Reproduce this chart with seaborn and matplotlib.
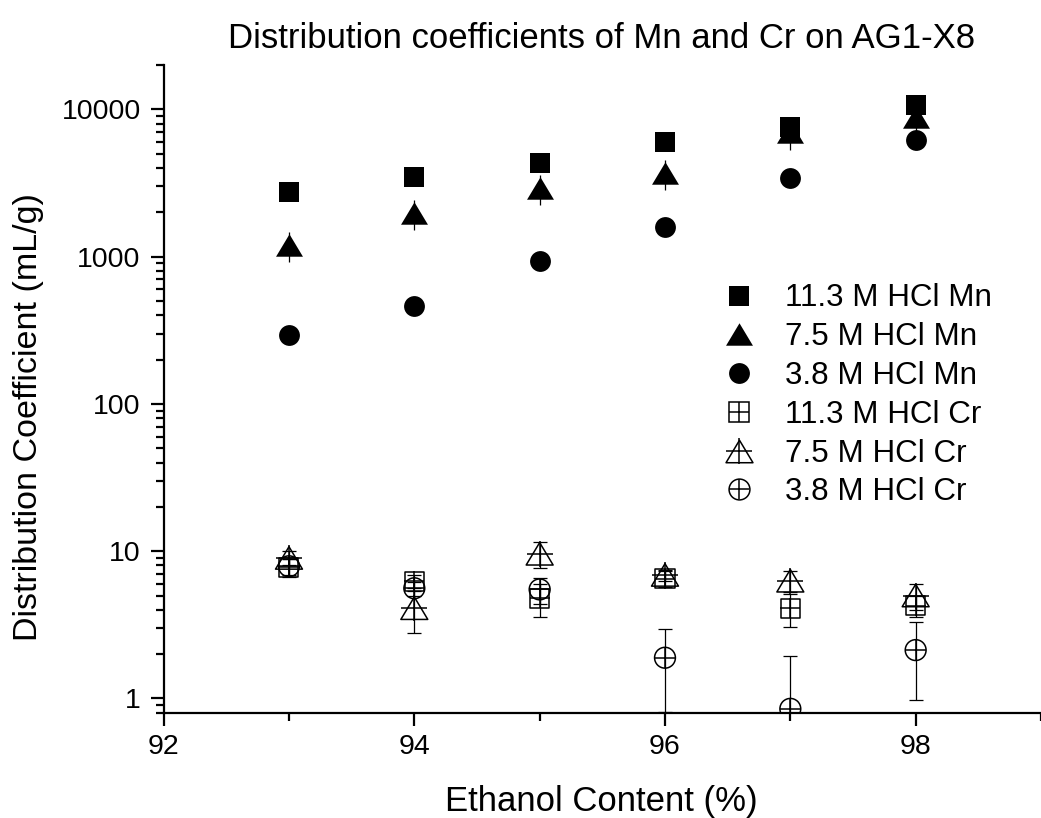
import matplotlib
matplotlib.use("Agg")
import matplotlib.pyplot as plt
import seaborn as sns
import pandas as pd
import numpy as np
from matplotlib.lines import Line2D
from matplotlib.path import Path
from matplotlib.ticker import LogLocator, FixedLocator, NullFormatter

# ---- data ----
ethanol = [93, 94, 95, 96, 97, 98]

mn_113 = [2765, 3460, 4350, 6040, 7640, 10710]
mn_75 = [1200, 1970, 2920, 3690, 7000, 8840]
mn_75_err = [280, 460, 680, 860, 1700, 2000]
mn_38 = [295, 459, 927, 1600, 3410, 6200]

cr_113 = [7.8, 6.25, 4.8, 6.5, 4.1, 4.25]
cr_113_err = [1.1, 0.6, 1.2, 0.8, 1.05, 0.7]
cr_75 = [9.0, 4.1, 9.6, 6.9, 6.3, 5.0]
cr_75_err = [1.0, 1.3, 1.9, 0.6, 1.0, 1.0]
cr_38 = [7.9, 5.6, 5.5, 1.89, 0.85, 2.13]
cr_38_err = [1.0, 0.6, 1.1, 1.08, 1.1, 1.15]

labels = ["11.3 M HCl Mn", "7.5 M HCl Mn", "3.8 M HCl Mn",
          "11.3 M HCl Cr", "7.5 M HCl Cr", "3.8 M HCl Cr"]
x_ticks = [92, 94, 96, 98]
y_ticks = [1, 10, 100, 1000, 10000]
y_tick_labels = ["1", "10", "100", "1000", "10000"]

sns.set_theme(style="ticks")
plt.rcParams["font.family"] = ["Liberation Sans", "DejaVu Sans"]
plt.rcParams["text.color"] = "black"
plt.rcParams["axes.labelcolor"] = "black"
plt.rcParams["legend.labelcolor"] = "black"

# wide triangle marker (Origin style)
tri = Path([(0, 1), (-1.2, -1), (1.2, -1), (0, 1)],
           [Path.MOVETO, Path.LINETO, Path.LINETO, Path.CLOSEPOLY])

fig = plt.figure(figsize=(10.41, 8.18), dpi=100)
ax = fig.add_axes([0.1572, 0.1287, 0.8428, 0.7918])

series = [
    (mn_113, None, "s", True, 13.7),
    (mn_75, mn_75_err, tri, True, 19.4),
    (mn_38, None, "o", True, 15),
    (cr_113, cr_113_err, "s", False, 13.7),
    (cr_75, cr_75_err, tri, False, 19.4),
    (cr_38, cr_38_err, "o", False, 15),
]

handles = []
for (vals, errs, mk, filled, ms), lab in zip(series, labels):
    df = pd.DataFrame({"x": ethanol, "y": vals})
    if errs is not None:
        ax.errorbar(ethanol, vals, yerr=errs, fmt="none", ecolor="black",
                    elinewidth=0.9, capsize=0 if filled else 5, capthick=0.9,
                    zorder=2)
    if filled:
        sns.scatterplot(data=df, x="x", y="y", marker=mk, s=ms**2,
                        color="black", edgecolor="black", linewidth=0,
                        ax=ax, zorder=3, legend=False)
        handles.append(Line2D([], [], marker=mk, color="black", linestyle="none",
                              markersize=ms, markeredgewidth=0))
    else:
        sns.scatterplot(data=df, x="x", y="y", marker=mk, s=ms**2,
                        facecolor="none", edgecolor="black", linewidth=1.1,
                        ax=ax, zorder=3, legend=False)
        ax.plot(ethanol, vals, marker="+", markersize=ms, markeredgewidth=1.1,
                color="black", linestyle="none", zorder=3)
        h1 = Line2D([], [], marker=mk, markerfacecolor="none", markeredgecolor="black",
                    linestyle="none", markersize=ms, markeredgewidth=1.1)
        h2 = Line2D([], [], marker="+", color="black", linestyle="none",
                    markersize=ms, markeredgewidth=1.1)
        handles.append((h1, h2))

ax.set_yscale("log")
ax.set_xlim(92, 99)
ax.set_ylim(0.8, 20000)

ax.xaxis.set_major_locator(FixedLocator(x_ticks))
ax.xaxis.set_minor_locator(FixedLocator([93, 95, 97, 99]))
ax.set_xticklabels([str(t) for t in x_ticks])
ax.yaxis.set_major_locator(FixedLocator(y_ticks))
ax.set_yticklabels(y_tick_labels)
ax.yaxis.set_minor_locator(LogLocator(base=10, subs=np.arange(2, 10), numticks=20))
ax.yaxis.set_minor_formatter(NullFormatter())

for s in ["top", "right"]:
    ax.spines[s].set_visible(False)
for s in ["left", "bottom"]:
    ax.spines[s].set_linewidth(1.6)
    ax.spines[s].set_color("black")

ax.tick_params(axis="both", which="major", direction="out", length=9.5, width=1.6,
               labelsize=20.5, color="black", labelcolor="black")
ax.tick_params(axis="both", which="minor", direction="out", length=5.5, width=1.6,
               color="black")
ax.tick_params(axis="x", which="major", pad=6)
ax.tick_params(axis="y", which="major", pad=7)

ax.set_xlabel("")
ax.set_ylabel("")
fig.text(0.578, 1 - 810.7 / 818, "Ethanol Content (%)", ha="center", va="baseline",
         fontsize=25, color="black")
fig.text(29 / 1041, 1 - 417.5 / 818, "Distribution Coefficient (mL/g)", ha="center",
         va="center", rotation=90, fontsize=24.5, color="black")
fig.text(0.578, 1 - 38 / 818, "Distribution coefficients of Mn and Cr on AG1-X8",
         ha="center", va="center", fontsize=25, color="black")

leg = ax.legend(handles, labels, loc="upper left",
                bbox_to_anchor=(715.5 / 1041, 1 - 283.5 / 818),
                bbox_transform=fig.transFigure, frameon=False, fontsize=22.6,
                handlelength=1.5, handletextpad=0.72, labelspacing=0.28,
                borderpad=0, borderaxespad=0)
for t in leg.get_texts():
    t.set_color("black")

fig.savefig("out.png", dpi=100)
